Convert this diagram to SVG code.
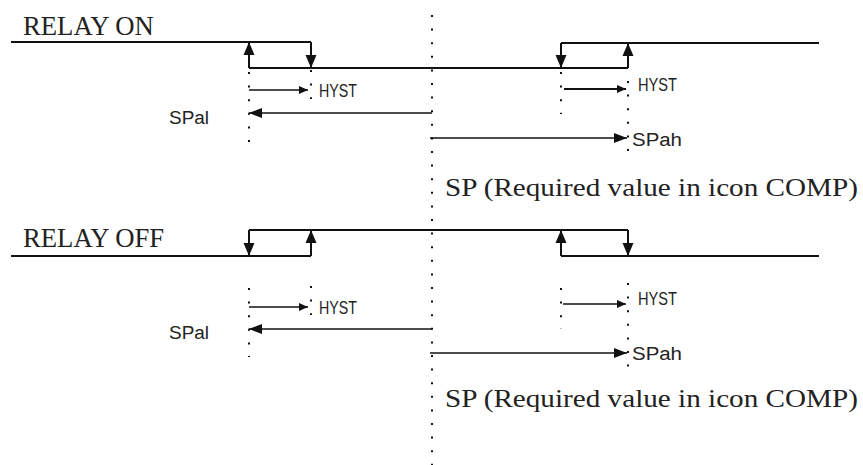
<svg xmlns="http://www.w3.org/2000/svg" width="863" height="465" viewBox="0 0 863 465">
<defs>
<style>
.ln{stroke:#111;stroke-width:2;fill:none}
.ar{stroke:#111;stroke-width:1.6;fill:none}
.dot{stroke:#111;stroke-width:2;fill:none;stroke-dasharray:2 11.6}
.serif{font-family:"Liberation Serif","Times New Roman",serif;fill:#222}
.sans{font-family:"Liberation Sans",Arial,sans-serif;fill:#222;font-size:18px}
</style>
<marker id="big" markerUnits="userSpaceOnUse" markerWidth="13" markerHeight="11" refX="13" refY="5.5" orient="auto" overflow="visible">
<path d="M0,0 L13,5.5 L0,11 z" fill="#111"/>
</marker>
<marker id="mid" markerUnits="userSpaceOnUse" markerWidth="13" markerHeight="10" refX="13" refY="5" orient="auto" overflow="visible">
<path d="M0,0 L13,5 L0,10 z" fill="#111"/>
</marker>
<marker id="sm" markerUnits="userSpaceOnUse" markerWidth="9" markerHeight="8" refX="9" refY="4" orient="auto" overflow="visible">
<path d="M0,0 L9,4 L0,8 z" fill="#111"/>
</marker>
</defs>
<rect width="863" height="465" fill="#fff"/>

<g id="guides">
<line class="dot" x1="432" y1="15" x2="432" y2="465"/>
<line class="dot" x1="249" y1="72" x2="249" y2="142"/>
<line class="dot" x1="311" y1="70" x2="311" y2="99"/>
<line class="dot" x1="561" y1="72" x2="561" y2="114"/>
<line class="dot" x1="628" y1="81" x2="628" y2="152"/>
<line class="dot" x1="249" y1="288" x2="249" y2="357"/>
<line class="dot" x1="311" y1="286" x2="311" y2="315"/>
<line class="dot" x1="561" y1="288" x2="561" y2="329"/>
<line class="dot" x1="628" y1="283" x2="628" y2="367"/>
</g>

<g id="relay-on">
<text class="serif" x="23" y="35" font-size="26.7">RELAY ON</text>
<path class="ln" d="M11,42 H311"/>
<path class="ln" d="M249,68 H628"/>
<path class="ln" d="M561,43 H819"/>
</g>

<g id="relay-off">
<text class="serif" x="23" y="247" font-size="26.7">RELAY OFF</text>
<path class="ln" d="M11,256 H311"/>
<path class="ln" d="M249,230 H628"/>
<path class="ln" d="M561,256 H819"/>
</g>

<g id="labels">
<text class="sans" x="319" y="97" textLength="38" lengthAdjust="spacingAndGlyphs">HYST</text>
<text class="sans" x="638" y="91" textLength="39" lengthAdjust="spacingAndGlyphs">HYST</text>
<text class="sans" x="169" y="124" textLength="40" lengthAdjust="spacingAndGlyphs">SPal</text>
<text class="sans" x="632" y="146" textLength="50" lengthAdjust="spacingAndGlyphs">SPah</text>
<text class="serif" x="445" y="196" font-size="26" textLength="413" lengthAdjust="spacingAndGlyphs">SP (Required value in icon COMP)</text>
<text class="sans" x="319" y="314" textLength="38" lengthAdjust="spacingAndGlyphs">HYST</text>
<text class="sans" x="638" y="305" textLength="39" lengthAdjust="spacingAndGlyphs">HYST</text>
<text class="sans" x="169" y="339" textLength="40" lengthAdjust="spacingAndGlyphs">SPal</text>
<text class="sans" x="632" y="360" textLength="50" lengthAdjust="spacingAndGlyphs">SPah</text>
<text class="serif" x="445" y="407" font-size="26" textLength="413" lengthAdjust="spacingAndGlyphs">SP (Required value in icon COMP)</text>
</g>

<g id="connectors">
<line class="ln" x1="311" y1="42" x2="311" y2="68" marker-end="url(#big)"/>
<line class="ln" x1="249" y1="68" x2="249" y2="42" marker-end="url(#big)"/>
<line class="ln" x1="628" y1="68" x2="628" y2="43" marker-end="url(#big)"/>
<line class="ln" x1="561" y1="43" x2="561" y2="68" marker-end="url(#big)"/>
<line class="ar" x1="249" y1="90" x2="308" y2="90" marker-end="url(#sm)"/>
<line class="ar" x1="432" y1="113" x2="249" y2="113" marker-end="url(#mid)"/>
<line class="ln" x1="564" y1="89" x2="626" y2="89" stroke-width="2.6" marker-end="url(#sm)"/>
<line class="ar" x1="430" y1="138" x2="627" y2="138" marker-end="url(#mid)"/>

<line class="ln" x1="311" y1="256" x2="311" y2="230" marker-end="url(#big)"/>
<line class="ln" x1="249" y1="230" x2="249" y2="256" marker-end="url(#big)"/>
<line class="ln" x1="628" y1="230" x2="628" y2="256" marker-end="url(#big)"/>
<line class="ln" x1="561" y1="256" x2="561" y2="230" marker-end="url(#big)"/>
<line class="ar" x1="249" y1="307" x2="308" y2="307" marker-end="url(#sm)"/>
<line class="ar" x1="432" y1="329" x2="249" y2="329" marker-end="url(#mid)"/>
<line class="ar" x1="563" y1="304" x2="626" y2="304" marker-end="url(#sm)"/>
<line class="ar" x1="430" y1="353" x2="627" y2="353" marker-end="url(#mid)"/>
</g>
</svg>
